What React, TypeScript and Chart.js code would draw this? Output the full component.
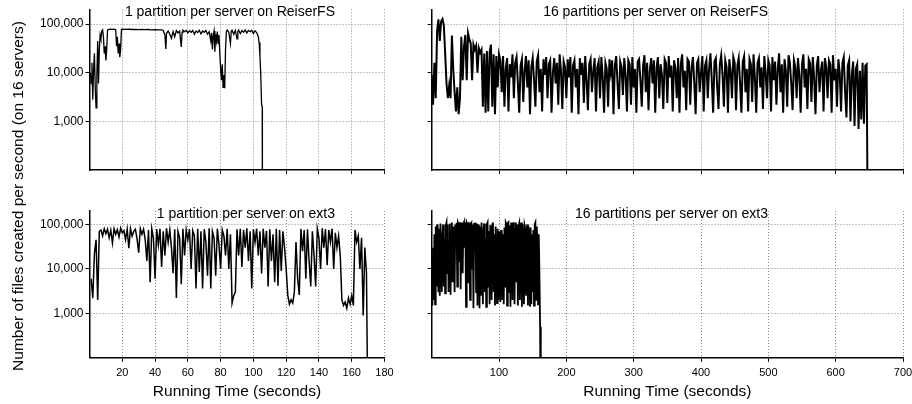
import React, { useEffect, useRef } from 'react';
import { Chart, registerables } from 'chart.js';

Chart.register(...registerables);

const FONT = '"Liberation Sans", Arial, Helvetica, sans-serif';

// ---------------- data (rates in thousands of files per second) ----------------

// 1 partition per server on ReiserFS (irregular sample times, seconds)
const reiser1TimeS = [
  0.5, 1, 1.5, 2, 2.5, 3, 3.5, 4, 4.5, 5, 5.5, 6, 6.5, 7, 7.5, 8, 8.5, 9, 9.5, 10,
  10.5, 11, 12, 13, 14, 15, 16, 16.5, 17, 17.5, 18, 18.5, 19, 19.5, 20, 22, 24, 26, 28, 30,
  32, 34, 36, 38, 40, 42, 44, 45, 46, 46.6, 47, 48, 49, 50, 51, 52, 53, 54, 55, 56,
  56.5, 57, 58, 59, 60, 61, 62, 63, 64, 65, 66, 67, 68, 69, 70, 71, 72, 73, 74, 74.5,
  75, 75.5, 76, 76.5, 77, 77.5, 78, 78.5, 79, 79.5, 80, 80.5, 81, 81.5, 82, 82.5, 83, 83.5, 84, 85,
  86, 86.5, 87, 88, 89, 90, 90.5, 91, 92, 93, 94, 95, 96, 97, 98, 99, 100, 101, 102, 103,
  103.5, 104, 104.5, 105, 105.4, 105.5,
];
const reiser1RateK = [
  10, 6, 16, 2.8, 12, 25, 5, 1.9, 9, 45, 6, 30, 60, 50, 72, 76, 55, 25, 35, 18,
  30, 76, 78, 78.5, 78, 78.5, 77, 35, 55, 25, 40, 21, 30, 77, 79, 78, 78.5, 77.5, 78, 77,
  78, 77, 77.5, 76.5, 77, 76, 76.5, 74, 60, 31, 65, 72, 62, 51, 70, 55, 74, 66, 72, 34,
  68, 75, 70, 74, 66, 73, 68, 74, 62, 72, 67, 75, 63, 72, 68, 74, 62, 70, 45, 66,
  30, 58, 72, 27, 62, 45, 70, 40, 60, 25, 12, 7, 15, 5, 9, 4.8, 30, 70, 76, 68,
  40, 72, 75, 62, 74, 50, 70, 76, 64, 74, 68, 76, 66, 74, 70, 75, 64, 73, 67, 55,
  42, 22, 9, 2.2, 2, 0.001,
];

// 16 partitions per server on ReiserFS (one sample every 2 s from 0 s)
const reiser16StartS = 0;
const reiser16StepS = 2;
const reiser16RateK = [
  9, 2.2, 16, 3, 70, 125, 45, 115, 128, 95,
  25, 6, 3, 5.5, 3, 58, 12, 4, 1.6, 5,
  1.4, 3, 55, 7, 35, 60, 7, 65, 48, 40,
  7, 38, 30, 36, 10, 32, 26, 30, 2, 25,
  1.5, 28, 1.6, 26, 38, 2, 24, 1.4, 22, 5,
  24,
  18, 4, 22, 2, 12, 20, 1.6, 15, 8, 24,
  3, 16, 21, 6, 1.5, 14, 19, 2.5, 11, 22,
  5, 18, 1.4, 13, 20, 7, 2, 17, 23, 4,
  12, 1.6, 19, 9, 21, 3, 15, 18, 1.5, 10,
  20, 6, 16, 2.2, 24, 11, 1.8, 17, 13, 3,
  19, 8, 21, 1.5, 14, 18, 5, 12, 1.4, 20,
  9, 16, 2.4, 22, 7, 1.7, 15, 19, 4, 11,
  20, 1.6, 13, 17, 3, 21, 8, 1.5, 16, 12,
  2, 19, 10, 18, 1.4, 14, 22, 6, 1.8, 17,
  13, 3.5, 20, 9, 1.6, 18, 15, 2.2, 21, 5,
  12, 1.5, 17, 19, 7, 2, 14, 23, 4, 16,
  1.7, 11, 20, 6, 18, 1.5, 13, 21, 3, 15,
  9, 1.8, 19, 16, 2.4, 22, 8, 14, 1.6, 18,
  12, 3, 20, 1.5, 15, 24, 5, 11, 1.7, 19,
  17, 2.2, 13, 21, 6, 1.4, 16, 19, 4, 10,
  22, 1.6, 14, 18, 3, 12, 25, 7, 1.5, 17,
  20, 5, 1.8, 15, 23, 9, 2, 18, 13, 1.5,
  19, 11, 3, 21, 16, 1.7, 14, 20, 6, 1.5,
  17, 22, 4, 12, 1.6, 19, 15, 2.5, 24, 8,
  1.5, 16, 20, 5, 13, 1.8, 22, 10, 3, 18,
  14, 1.6, 21, 7, 17, 2.2, 12, 25, 4, 15,
  1.5, 19, 11, 2, 23, 16, 6, 1.7, 18, 13,
  3, 20, 9, 1.5, 15, 24, 5, 12, 1.8, 19,
  16, 2.5, 21, 8, 1.4, 14, 22, 4, 11, 17,
  1.6, 20, 13, 3, 18, 15, 1.5, 23, 7, 12,
  2, 19, 10, 1.6, 16, 21, 4, 1.2, 14, 18,
  1, 9, 17, 0.8, 12, 15, 0.7, 11, 1.1, 16,
  0.9, 14, 15, 0.001,
];

// 1 partition per server on ext3 (one sample per second from 1 s)
const ext3OneStartS = 1;
const ext3OneStepS = 1;
const ext3OneRateK = [
  6, 2.2, 22, 45, 2, 70, 75, 55, 80, 62,
  78, 50, 74, 38, 80, 60, 76, 52, 82, 64,
  72, 45, 78, 29, 80, 55, 70, 78, 48, 23,
  80, 60, 78, 45, 15, 75, 5, 80, 50, 6,
  78, 35, 80, 11, 70, 20, 82, 40, 75, 30,
  8, 78, 2.2, 70, 50, 4.5, 80, 20, 75, 45,
  78, 10, 72, 55, 3.6, 80, 8.5, 70, 3.6, 78,
  40, 7, 82, 3.6, 70, 50, 7, 80, 35, 10,
  75, 55, 20, 80, 10, 60, 1.7, 2.5, 3, 78,
  20, 80, 11, 75, 30, 82, 15, 70, 3.6, 78,
  40, 80, 20, 70, 7.9, 80, 30, 72, 4, 78,
  15, 60, 5, 80, 4.2, 75, 9, 70, 30, 10,
  2.5, 1.6, 2, 1.7, 3, 40, 6, 2.6, 80, 25,
  75, 6, 78, 15, 4, 70, 20, 4, 80, 50,
  10, 82, 30, 78, 12, 75, 40, 80, 10, 65,
  30, 55, 20, 2, 1.5, 1.8, 1.3, 2.2, 1.6, 2.5,
  1.5, 75, 40, 55, 10, 50, 0.9, 30, 8, 0.001,
];

// 16 partitions per server on ext3 (one sample per second from 0 s)
const ext3SixteenStartS = 0;
const ext3SixteenStepS = 1;
const ext3SixteenRateK = [
  5, 1.5, 30, 2, 60, 1.6, 90, 4, 100, 10,
  3, 80, 2.5, 105, 20, 3, 60, 100, 4, 50,
  2.8, 95, 110, 8, 100, 3, 40, 105, 2.6, 70,
  110, 5, 90, 20, 3, 100, 60, 108, 4, 110,
  100, 15, 112, 3.5, 105, 110, 8, 100, 112, 30,
  108, 1.4, 110, 100, 5, 112, 90, 2, 105, 110,
  10, 100, 1.3, 108, 60, 110, 3, 105, 1.5, 100,
  40, 1.3, 90, 2.5, 110, 20, 1.6, 80, 105, 3,
  50, 1.4, 100, 110, 4, 70, 1.6, 95, 10, 2,
  100, 110, 3, 60, 1.5, 90, 15, 1.7, 80, 2,
  70, 6, 1.8, 75, 20, 2, 60, 1.6, 85, 4,
  110, 100, 1.5, 108, 112, 3, 95, 1.4, 110, 50,
  2, 105, 112, 1.6, 80, 110, 5, 100, 1.5, 90,
  105, 2, 60, 110, 1.4, 100, 30, 1.6, 95, 80,
  2.5, 70, 100, 1.5, 90, 40, 1.4, 85, 1.6, 60,
  3, 75, 1.5, 100, 110, 2, 90, 40, 1.6, 60,
  8, 0.5, 0.001,
];

const leftXTicks = [20, 40, 60, 80, 100, 120, 140, 160, 180];
const rightXTicks = [100, 200, 300, 400, 500, 600, 700];
const yTicks = [1000, 10000, 100000];
const yMin = 100;
const yMax = 200000;

const xAxisTitle = 'Running Time (seconds)';
const yAxisTitle = 'Number of files created per second (on 16 servers)';

// ---------------- helpers ----------------
type Pt = { x: number; y: number };
function uniformSeries(start: number, step: number, valuesK: number[]): Pt[] {
  return valuesK.map((v, i) => ({ x: start + i * step, y: v * 1000 }));
}
function pairedSeries(times: number[], valuesK: number[]): Pt[] {
  return times.map((t, i) => ({ x: t, y: valuesK[i] * 1000 }));
}

const W = 912;
const H = 404;
const Y_W = 75;

type PanelCfg = {
  title: string;
  points: Pt[];
  xMax: number;
  xTicks: number[];
  xLabels: boolean;
  yLabels: boolean;
  area: { left: number; right: number; top: number; bottom: number };
  xH: number;
  titleInset: number;
  lineWidth: number;
};

const panels: PanelCfg[] = [
  {
    title: '1 partition per server on ReiserFS',
    points: pairedSeries(reiser1TimeS, reiser1RateK),
    xMax: 180, xTicks: leftXTicks, xLabels: false, yLabels: true,
    area: { left: 89.5, right: 384.5, top: 9.5, bottom: 170 }, xH: 20, titleInset: 49.5,
    lineWidth: 1.3,
  },
  {
    title: '16 partitions per server on ReiserFS',
    points: uniformSeries(reiser16StartS, reiser16StepS, reiser16RateK),
    xMax: 700, xTicks: rightXTicks, xLabels: false, yLabels: false,
    area: { left: 431.7, right: 903, top: 9.5, bottom: 170 }, xH: 20, titleInset: 135,
    lineWidth: 2,
  },
  {
    title: '1 partition per server on ext3',
    points: uniformSeries(ext3OneStartS, ext3OneStepS, ext3OneRateK),
    xMax: 180, xTicks: leftXTicks, xLabels: true, yLabels: true,
    area: { left: 89.5, right: 384.5, top: 211, bottom: 357.8 }, xH: 43.3, titleInset: 49.5,
    lineWidth: 1.5,
  },
  {
    title: '16 partitions per server on ext3',
    points: uniformSeries(ext3SixteenStartS, ext3SixteenStepS, ext3SixteenRateK),
    xMax: 700, xTicks: rightXTicks, xLabels: true, yLabels: false,
    area: { left: 431.7, right: 903, top: 211, bottom: 357.8 }, xH: 43.3, titleInset: 135,
    lineWidth: 1.8,
  },
];

function Panel({ cfg }: { cfg: PanelCfg }) {
  const ref = useRef<HTMLCanvasElement>(null);
  useEffect(() => {
    const canvas = ref.current;
    if (!canvas) return;
    const gridCommon = {
      color: '#8c8c8c',
      lineWidth: 1,
      drawTicks: true,
      tickLength: 4,
      tickColor: '#000',
      tickWidth: 1,
    };
    const borderCommon = { display: true, color: '#000', width: 1.5, dash: [1, 2] };
    const chart = new Chart(canvas, {
      type: 'line',
      data: {
        datasets: [
          {
            data: cfg.points as any,
            borderColor: '#000',
            borderWidth: cfg.lineWidth,
            borderJoinStyle: 'miter',
            pointRadius: 0,
            tension: 0,
            fill: false,
          },
        ],
      },
      options: {
        animation: false,
        responsive: false,
        events: [],
        layout: {
          padding: {
            left: cfg.area.left - Y_W,
            right: W - cfg.area.right,
            top: cfg.area.top,
            bottom: H - cfg.area.bottom - cfg.xH,
          },
        },
        plugins: {
          legend: { display: false },
          tooltip: { enabled: false },
          title: { display: false },
        },
        scales: {
          x: {
            type: 'linear',
            min: 0,
            max: cfg.xMax,
            afterBuildTicks: (s: any) => {
              s.ticks = cfg.xTicks.map((v) => ({ value: v }));
            },
            afterFit: (s: any) => {
              s.height = cfg.xH;
              s.paddingLeft = 0;
              s.paddingRight = 0;
              s.paddingTop = 0;
              s.paddingBottom = 0;
            },
            grid: gridCommon,
            border: borderCommon,
            ticks: {
              display: cfg.xLabels,
              color: '#000',
              font: { family: FONT, size: 11 },
              padding: 5,
              maxRotation: 0,
              autoSkip: false,
            },
            title: {
              display: cfg.xLabels,
              text: xAxisTitle,
              color: '#000',
              font: { family: FONT, size: 15.5 },
              padding: 0,
            },
          },
          y: {
            type: 'logarithmic',
            min: yMin,
            max: yMax,
            afterBuildTicks: (s: any) => {
              s.ticks = yTicks.map((v) => ({ value: v }));
            },
            afterFit: (s: any) => {
              s.width = Y_W;
              s.paddingLeft = 0;
              s.paddingRight = 0;
              s.paddingTop = 0;
              s.paddingBottom = 0;
            },
            grid: gridCommon,
            border: borderCommon,
            ticks: {
              display: cfg.yLabels,
              color: '#000',
              font: { family: FONT, size: 12 },
              padding: 2,
              callback: (v: any) => Number(v).toLocaleString('en-US'),
            },
          },
        },
      },
      plugins: [
        {
          id: 'panelTitle',
          afterDraw(c: any) {
            const { ctx, chartArea } = c;
            ctx.save();
            ctx.font = `14px ${FONT}`;
            ctx.fillStyle = '#000';
            ctx.textAlign = 'right';
            ctx.textBaseline = 'middle';
            ctx.fillText(cfg.title, chartArea.right - cfg.titleInset, chartArea.top + 3);
            ctx.restore();
          },
        },
      ],
    } as any);
    return () => chart.destroy();
  }, [cfg]);
  return (
    <canvas
      ref={ref}
      width={W}
      height={H}
      style={{ position: 'absolute', left: 0, top: 0, width: W, height: H }}
    />
  );
}

export default function App() {
  return (
    <div style={{ position: 'absolute', left: 0, top: 0, width: W, height: H, background: '#fff' }}>
      {panels.map((p) => (
        <Panel key={p.title} cfg={p} />
      ))}
      <div
        style={{
          position: 'absolute',
          left: 18 - 200,
          top: 196 - 10,
          width: 400,
          height: 20,
          lineHeight: '20px',
          textAlign: 'center',
          transform: 'rotate(-90deg)',
          fontFamily: FONT,
          fontSize: 15.5,
          whiteSpace: 'nowrap',
          color: '#000',
        }}
      >
        {yAxisTitle}
      </div>
    </div>
  );
}
